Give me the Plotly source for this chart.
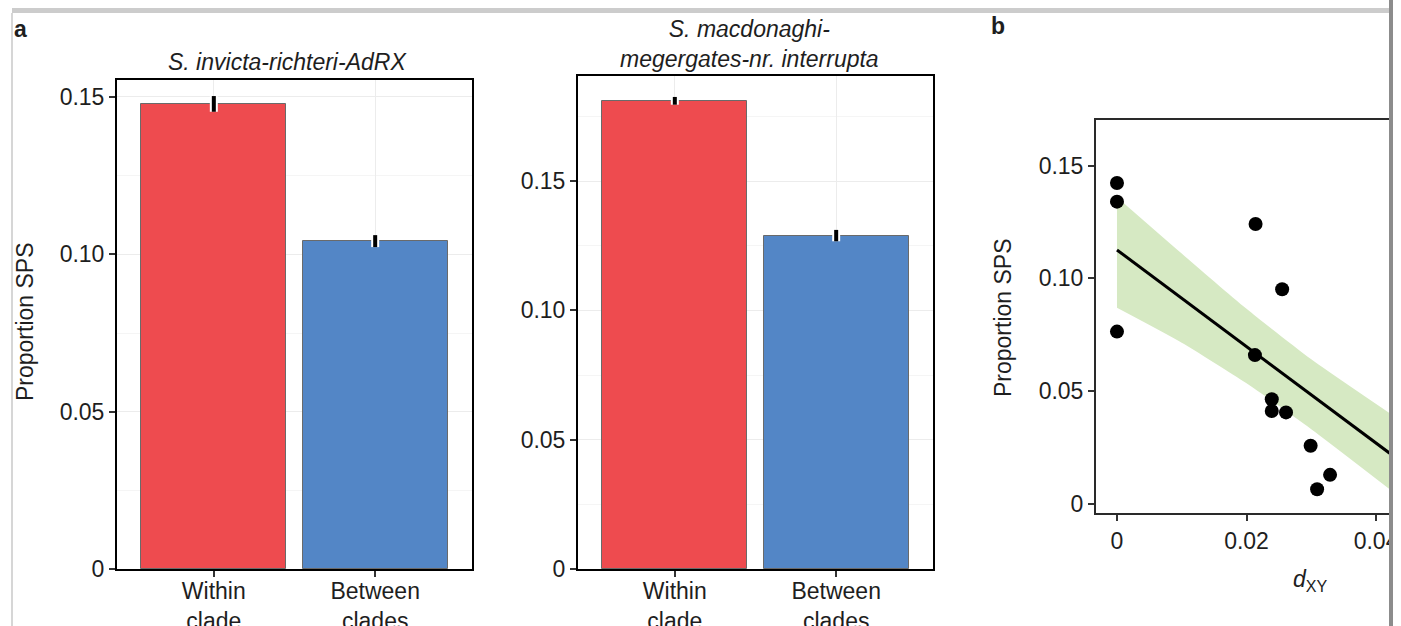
import plotly.graph_objects as go

W, H = 1401, 626

# ---- panel a: proportion of shared polymorphic sites by clade comparison ----
categories = ["Within<br>clade", "Between<br>clades"]
bar_colors = ["#EE4B4F", "#5386C6"]

invicta_mean = [0.1478, 0.1042]
invicta_err = [0.0025, 0.0019]

macdonaghi_mean = [0.1810, 0.1289]
macdonaghi_err = [0.0015, 0.0022]

a_ticks = [0, 0.05, 0.10, 0.15]
a_ticktext = ["0", "0.05", "0.10", "0.15"]

# ---- panel b: proportion SPS against d_XY with linear fit ----
dxy = [0.0, 0.0, 0.0, 0.0214, 0.0255, 0.0213, 0.0239, 0.0239, 0.0261, 0.0299, 0.0329, 0.0309]
sps = [0.1423, 0.1340, 0.0764, 0.1241, 0.0952, 0.0660, 0.0464, 0.0412, 0.0406, 0.0258, 0.0129, 0.0065]

fit_x = [0.0, 0.0421]
fit_y = [0.1126, 0.0225]
band_x = [0.0, 0.01, 0.02, 0.03, 0.0421]
band_hi = [0.1360, 0.1110, 0.0865, 0.0641, 0.0402]
band_lo = [0.0870, 0.0715, 0.0535, 0.0331, 0.0065]

b_yticks = [0, 0.05, 0.10, 0.15]
b_yticktext = ["0", "0.05", "0.10", "0.15"]
b_xticks = [0, 0.02, 0.04]
b_xticktext = ["0", "0.02", "0.04"]

FONT = "Liberation Sans, Arial, Helvetica, sans-serif"
TXT = "#1e1e1e"
FS = 23


def px_x(x):
    return x / W


def px_y(y):
    return 1 - y / H


fig = go.Figure()

# bars + error bars for the two panel-a facets
for xa, ya, means, errs in [("x", "y", invicta_mean, invicta_err),
                            ("x2", "y2", macdonaghi_mean, macdonaghi_err)]:
    fig.add_trace(go.Bar(
        x=categories, y=means, width=0.9, xaxis=xa, yaxis=ya,
        marker=dict(color=bar_colors, line=dict(color="#6a6a6a", width=1)),
        showlegend=False, hoverinfo="skip"))
    for colr, thick in [("white", 8), ("black", 4)]:
        fig.add_trace(go.Scatter(
            x=categories, y=means, mode="markers", xaxis=xa, yaxis=ya,
            marker=dict(size=0.1, color="rgba(0,0,0,0)"),
            error_y=dict(type="data", array=errs, color=colr, thickness=thick, width=0),
            showlegend=False, hoverinfo="skip"))

# confidence band, fit line, points for panel b
fig.add_trace(go.Scatter(x=band_x, y=band_lo, mode="lines", xaxis="x3", yaxis="y3",
                         line=dict(width=0, shape="spline", smoothing=0.6),
                         showlegend=False, hoverinfo="skip"))
fig.add_trace(go.Scatter(x=band_x, y=band_hi, mode="lines", xaxis="x3", yaxis="y3",
                         line=dict(width=0, shape="spline", smoothing=0.6),
                         fill="tonexty", fillcolor="#D6E9C3",
                         showlegend=False, hoverinfo="skip"))
fig.add_trace(go.Scatter(x=fit_x, y=fit_y, mode="lines", xaxis="x3", yaxis="y3",
                         line=dict(color="black", width=3),
                         showlegend=False, hoverinfo="skip"))
fig.add_trace(go.Scatter(x=dxy, y=sps, mode="markers", xaxis="x3", yaxis="y3",
                         marker=dict(color="black", size=14, line=dict(width=0)),
                         cliponaxis=False, showlegend=False, hoverinfo="skip"))

tickfont = dict(family=FONT, size=FS, color=TXT)

bw_x = dict(type="category", range=[-0.6, 1.6], showline=True, mirror=True,
            linecolor="black", linewidth=2, ticks="outside", ticklen=6,
            tickwidth=1.5, tickcolor="#333", showgrid=True, gridcolor="#ececec",
            gridwidth=1, tickfont=tickfont, zeroline=False, automargin=False,
            ticklabelstandoff=-6)
bw_y = dict(showline=True, mirror=True, linecolor="black", linewidth=2,
            ticks="outside", ticklen=6, tickwidth=1.5, tickcolor="#333",
            tickvals=a_ticks, ticktext=a_ticktext, showgrid=True,
            gridcolor="#ececec", gridwidth=1, zeroline=False, tickfont=tickfont,
            automargin=False,
            minor=dict(tickmode="linear", tick0=0, dtick=0.025, showgrid=True,
                       gridcolor="#f5f5f5", gridwidth=1, ticks=""))
b_axis = dict(showline=True, mirror=True, linecolor="#2a2a2a", linewidth=2,
              ticks="outside", ticklen=6, tickwidth=1.5, tickcolor="#333",
              showgrid=False, zeroline=False, tickfont=tickfont, automargin=False)

fig.update_layout(
    template="none",
    width=W, height=H, margin=dict(l=0, r=0, t=0, b=0, pad=0), autosize=False,
    paper_bgcolor="white", plot_bgcolor="white", bargap=0,
    xaxis=dict(bw_x, domain=[px_x(117), px_x(472)], anchor="y"),
    yaxis=dict(bw_y, domain=[px_y(569), px_y(80)], range=[0, 0.1554], anchor="x"),
    xaxis2=dict(bw_x, domain=[px_x(578), px_x(933)], anchor="y2"),
    yaxis2=dict(bw_y, domain=[px_y(569), px_y(76)], range=[0, 0.1906], anchor="x2"),
    xaxis3=dict(b_axis, domain=[px_x(1096), px_x(1389)], anchor="y3",
                range=[-0.00324, 0.0420], tickvals=b_xticks, ticktext=b_xticktext),
    yaxis3=dict(b_axis, domain=[px_y(513), px_y(120)], anchor="x3",
                range=[-0.0040, 0.1702], tickvals=b_yticks, ticktext=b_yticktext),
)


def note(text, x, y, size=FS, angle=0, **kw):
    fig.add_annotation(text=text, x=px_x(x), y=px_y(y), xref="paper", yref="paper",
                       showarrow=False, textangle=angle, xanchor="center",
                       yanchor="middle", font=dict(family=FONT, size=size, color=TXT),
                       **kw)


note("<b>a</b>", 20, 29, size=23)
note("<b>b</b>", 998, 26, size=23)
note("<i>S. invicta-richteri-AdRX</i>", 287, 62)
note("<i>S. macdonaghi-<br>megergates-nr. interrupta</i>", 749, 44)
note("Proportion SPS", 25, 322, angle=-90)
note("Proportion SPS", 1003, 318, angle=-90)
note("<i>d</i><sub>XY</sub>", 1310, 580)

# page frame: top rule, left rule, right rule and blank strip beyond it
shapes = [
    dict(type="rect", x0=px_x(12), x1=px_x(1393), y0=px_y(13), y1=px_y(8),
         fillcolor="#cccccc", line=dict(width=0)),
    dict(type="rect", x0=px_x(11), x1=px_x(13), y0=px_y(626), y1=px_y(13),
         fillcolor="#d6d6d6", line=dict(width=0)),
    dict(type="rect", x0=px_x(1393), x1=1, y0=0, y1=1,
         fillcolor="white", line=dict(width=0)),
    dict(type="rect", x0=px_x(1389), x1=px_x(1393), y0=0, y1=1,
         fillcolor="#8c8c8c", line=dict(width=0)),
]
for s in shapes:
    s.update(xref="paper", yref="paper", layer="above")
fig.update_layout(shapes=shapes)

fig.write_html("out.html")
